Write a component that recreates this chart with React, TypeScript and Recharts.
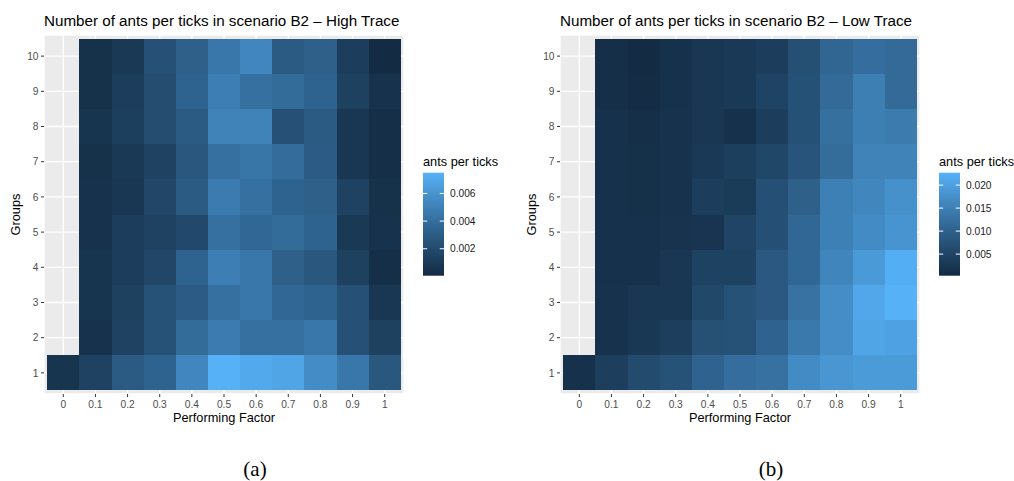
import React from "react";
import { CartesianGrid, ReferenceArea, Scatter, ScatterChart, XAxis, YAxis } from "recharts";

const factors = [0, 0.1, 0.2, 0.3, 0.4, 0.5, 0.6, 0.7, 0.8, 0.9, 1];
const groups = [1, 2, 3, 4, 5, 6, 7, 8, 9, 10];

// rows follow groups (1 -> 10), columns follow factors; null = not simulated
const highTrace: (number | null)[][] = [
  [0.00065, 0.0015, 0.0029, 0.0034, 0.0053, 0.0075, 0.0071, 0.0069, 0.0056, 0.0045, 0.0027],
  [null, 0.0005, 0.0015, 0.0024, 0.0038, 0.0047, 0.0041, 0.0041, 0.0045, 0.0023, 0.0014],
  [null, 0.00065, 0.0014, 0.0024, 0.003, 0.0041, 0.0045, 0.0036, 0.0034, 0.0023, 0.0008],
  [null, 0.00065, 0.0012, 0.0017, 0.0034, 0.0049, 0.0045, 0.0032, 0.0027, 0.0014, 0.0003],
  [null, 0.0005, 0.0012, 0.0015, 0.0019, 0.0041, 0.0036, 0.0038, 0.0034, 0.0009, 0.0005],
  [null, 0.0005, 0.0008, 0.0017, 0.0029, 0.0047, 0.0041, 0.0034, 0.0032, 0.0015, 0.0004],
  [null, 0.0004, 0.0009, 0.0015, 0.0027, 0.0041, 0.0044, 0.0039, 0.003, 0.0008, 0.0003],
  [null, 0.00065, 0.0013, 0.0021, 0.0029, 0.0051, 0.0051, 0.0023, 0.0029, 0.0008, 0.0003],
  [null, 0.0004, 0.0012, 0.0021, 0.0034, 0.0049, 0.0041, 0.0038, 0.0034, 0.0014, 0.0005],
  [null, 0.0004, 0.0009, 0.0023, 0.0032, 0.0045, 0.0053, 0.0029, 0.0032, 0.0012, 0.00005]
];

const lowTrace: (number | null)[][] = [
  [0.0014, 0.0039, 0.0062, 0.0074, 0.0102, 0.0122, 0.0126, 0.0168, 0.0186, 0.0193, 0.0193],
  [null, 0.0016, 0.0027, 0.0039, 0.007, 0.0074, 0.0102, 0.014, 0.0172, 0.0208, 0.0203],
  [null, 0.0016, 0.0025, 0.0025, 0.0055, 0.0074, 0.0085, 0.0128, 0.0172, 0.0212, 0.0227],
  [null, 0.0014, 0.0014, 0.0025, 0.0045, 0.0045, 0.0085, 0.011, 0.0158, 0.0192, 0.0222],
  [null, 0.0014, 0.0014, 0.0019, 0.0021, 0.005, 0.0069, 0.011, 0.015, 0.0168, 0.0182],
  [null, 0.0014, 0.0012, 0.0016, 0.0037, 0.0034, 0.0069, 0.0098, 0.015, 0.016, 0.0176],
  [null, 0.0014, 0.0012, 0.0016, 0.003, 0.0041, 0.0054, 0.0078, 0.0118, 0.0155, 0.0155],
  [null, 0.0014, 0.001, 0.0016, 0.0025, 0.0014, 0.0037, 0.0072, 0.0124, 0.0148, 0.0142],
  [null, 0.001, 0.0005, 0.0014, 0.0025, 0.003, 0.0048, 0.0072, 0.0115, 0.0148, 0.0115],
  [null, 0.001, 0.0003, 0.0014, 0.0025, 0.003, 0.0037, 0.0068, 0.0108, 0.0122, 0.0115]
];

const highBreaks = [0.002, 0.004, 0.006];
const lowBreaks = [0.005, 0.01, 0.015, 0.02];

const LOW = "#132B43";
const HIGH = "#56B1F7";
const FONT = '"Liberation Sans", Arial, Helvetica, sans-serif';

// gradient between LOW and HIGH is taken in CIE Lab, like scale_fill_gradient
function hexToRgb(hex: string) {
  const n = parseInt(hex.slice(1), 16);
  return [(n >> 16) & 255, (n >> 8) & 255, n & 255];
}

function toLab(rgb: number[]) {
  const lin = (c: number) => {
    c /= 255;
    return c <= 0.04045 ? c / 12.92 : Math.pow((c + 0.055) / 1.055, 2.4);
  };
  const [r, g, b] = rgb.map(lin);
  const x = (0.4124564 * r + 0.3575761 * g + 0.1804375 * b) / 0.95047;
  const y = 0.2126729 * r + 0.7151522 * g + 0.072175 * b;
  const z = (0.0193339 * r + 0.119192 * g + 0.9503041 * b) / 1.08883;
  const f = (t: number) => (t > 0.008856 ? Math.cbrt(t) : 7.787 * t + 16 / 116);
  const fx = f(x), fy = f(y), fz = f(z);
  return [116 * fy - 16, 500 * (fx - fy), 200 * (fy - fz)];
}

function fromLab([L, a, bb]: number[]) {
  const fy = (L + 16) / 116;
  const fx = fy + a / 500;
  const fz = fy - bb / 200;
  const inv = (t: number) => (t ** 3 > 0.008856 ? t ** 3 : (t - 16 / 116) / 7.787);
  const x = inv(fx) * 0.95047, y = inv(fy), z = inv(fz) * 1.08883;
  const r = 3.2404542 * x - 1.5371385 * y - 0.4985314 * z;
  const g = -0.969266 * x + 1.8760108 * y + 0.041556 * z;
  const b = 0.0556434 * x - 0.2040259 * y + 1.0572252 * z;
  const gam = (c: number) => {
    c = Math.max(0, Math.min(1, c));
    const v = c <= 0.0031308 ? 12.92 * c : 1.055 * Math.pow(c, 1 / 2.4) - 0.055;
    return Math.round(v * 255);
  };
  return `rgb(${gam(r)},${gam(g)},${gam(b)})`;
}

const labLow = toLab(hexToRgb(LOW));
const labHigh = toLab(hexToRgb(HIGH));

function gradient(t: number) {
  return fromLab(labLow.map((v, i) => v + (labHigh[i] - v) * t));
}

function toCells(values: (number | null)[][]) {
  const cells: { x: number; y: number; value: number }[] = [];
  values.forEach((row, gi) =>
    row.forEach((v, fi) => {
      if (v !== null) cells.push({ x: factors[fi], y: groups[gi], value: v });
    })
  );
  return cells;
}

const BAR = { x: 423, y: 172.7, w: 21, h: 103 };

function HeatPanel({
  offset,
  id,
  title,
  caption,
  values,
  breaks
}: {
  offset: number;
  id: string;
  title: string;
  caption: string;
  values: (number | null)[][];
  breaks: number[];
}) {
  const cells = toCells(values);
  const vals = cells.map((c) => c.value);
  const min = Math.min(...vals);
  const max = Math.max(...vals);
  const barY = (v: number) => BAR.y + ((max - v) / (max - min)) * BAR.h;
  const gradId = `colourbar-${id}`;

  return (
    <div style={{ position: "absolute", left: offset, top: 0, width: 520, height: 481 }}>
      <ScatterChart width={520} height={440} margin={{ top: 35, right: 116, bottom: 26, left: 0 }}>
        <CartesianGrid fill="#EBEBEB" stroke="#FFFFFF" strokeWidth={1.3} />
        <XAxis
          type="number"
          dataKey="x"
          domain={[-0.06, 1.06]}
          allowDataOverflow
          ticks={factors}
          interval={0}
          axisLine={false}
          tickLine={{ stroke: "#333333" }}
          tickSize={3}
          tickMargin={4}
          tick={{ fill: "#4D4D4D", fontSize: 10.2, fontFamily: FONT }}
          height={20}
        />
        <YAxis
          type="number"
          dataKey="y"
          domain={[0.4, 10.6]}
          allowDataOverflow
          ticks={groups}
          interval={0}
          axisLine={false}
          tickLine={{ stroke: "#333333" }}
          tickSize={3}
          tickMargin={2.5}
          tick={{ fill: "#4D4D4D", fontSize: 10.2, fontFamily: FONT }}
          width={44}
        />
        {cells.map((c) => (
          <ReferenceArea
            key={`${c.x}-${c.y}`}
            x1={c.x - 0.05}
            x2={c.x + 0.05}
            y1={c.y - 0.5}
            y2={c.y + 0.5}
            fill={gradient((c.value - min) / (max - min))}
            fillOpacity={1}
            stroke="none"
            shapeRendering="crispEdges"
          />
        ))}
        <Scatter data={cells} isAnimationActive={false} legendType="none" shape={() => <g />} />
      </ScatterChart>

      <svg
        width={520}
        height={481}
        style={{ position: "absolute", left: 0, top: 0, pointerEvents: "none", overflow: "visible" }}
      >
        <text x={44} y={25.5} fontFamily={FONT} fontSize={15.2} fill="#000">
          {title}
        </text>
        <text x={224} y={422} textAnchor="middle" fontFamily={FONT} fontSize={12.75} fill="#000">
          Performing Factor
        </text>
        <text
          x={20}
          y={214.5}
          textAnchor="middle"
          transform="rotate(-90 20 214.5)"
          fontFamily={FONT}
          fontSize={12.75}
          fill="#000"
        >
          Groups
        </text>

        <text x={BAR.x} y={165.5} fontFamily={FONT} fontSize={12.75} fill="#000">
          ants per ticks
        </text>
        <defs>
          <linearGradient id={gradId} x1="0" y1="1" x2="0" y2="0">
            {Array.from({ length: 21 }, (_, i) => (
              <stop key={i} offset={i / 20} stopColor={gradient(i / 20)} />
            ))}
          </linearGradient>
        </defs>
        <rect x={BAR.x} y={BAR.y} width={BAR.w} height={BAR.h} fill={`url(#${gradId})`} />
        {breaks.map((b) => (
          <g key={b}>
            <line x1={BAR.x} x2={BAR.x + 4.2} y1={barY(b)} y2={barY(b)} stroke="#FFFFFF" strokeWidth={1} />
            <line
              x1={BAR.x + BAR.w - 4.2}
              x2={BAR.x + BAR.w}
              y1={barY(b)}
              y2={barY(b)}
              stroke="#FFFFFF"
              strokeWidth={1}
            />
            <text x={BAR.x + 27} y={barY(b) + 3.7} fontFamily={FONT} fontSize={10.2} fill="#1A1A1A">
              {b.toFixed(3)}
            </text>
          </g>
        ))}

        <text
          x={255}
          y={476}
          textAnchor="middle"
          fontFamily='"Liberation Serif", "Times New Roman", serif'
          fontSize={21}
          fill="#000"
        >
          {caption}
        </text>
      </svg>
    </div>
  );
}

export default function App() {
  return (
    <div
      style={{
        position: "absolute",
        left: 0,
        top: 0,
        width: 1014,
        height: 481,
        overflow: "hidden",
        background: "#FFFFFF"
      }}
    >
      <HeatPanel
        offset={0}
        id="high"
        title="Number of ants per ticks in scenario B2 – High Trace"
        caption="(a)"
        values={highTrace}
        breaks={highBreaks}
      />
      <HeatPanel
        offset={516}
        id="low"
        title="Number of ants per ticks in scenario B2 – Low Trace"
        caption="(b)"
        values={lowTrace}
        breaks={lowBreaks}
      />
    </div>
  );
}
